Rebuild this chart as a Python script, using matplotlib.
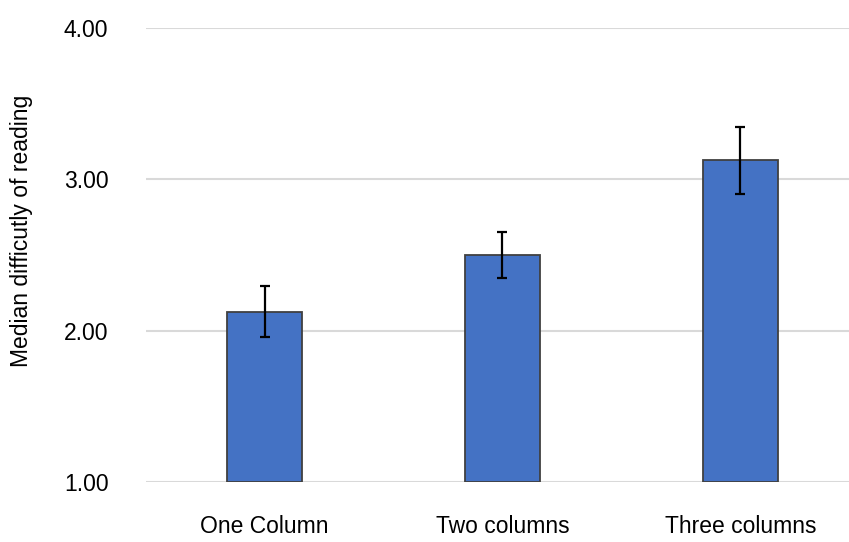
import matplotlib
matplotlib.use('Agg')
import matplotlib.pyplot as plt

plt.rcParams['font.family'] = ['Liberation Sans', 'DejaVu Sans']

categories = ['One Column', 'Two columns', 'Three columns']
medians = [2.125, 2.5, 3.125]
errors = [0.17, 0.15, 0.22]
yticks = [1.0, 2.0, 3.0, 4.0]

fig = plt.figure(figsize=(8.49, 5.42), dpi=100)
ax = fig.add_axes([146 / 849, 1 - 482 / 542, 1 - 146 / 849, (482 - 28) / 542])

x = range(len(categories))
ax.bar(x, [m - 1 for m in medians], bottom=1, width=0.315,
       color='#4472C4', edgecolor='#404040', linewidth=1.3, zorder=3)
ax.errorbar(x, medians, yerr=errors, fmt='none', ecolor='black',
            elinewidth=1.6, capsize=3.6, capthick=1.6, zorder=4)

ax.set_xlim(-0.498, 2.456)
ax.set_ylim(1, 4)
ax.set_yticks(yticks)
ax.set_yticklabels([f'{v:.2f}' for v in yticks], fontsize=16.5)
ax.set_xticks(list(x))
ax.set_xticklabels(categories, fontsize=16.5)
ax.tick_params(axis='both', length=0)
ax.tick_params(axis='y', pad=27)
ax.tick_params(axis='x', pad=24)
ax.yaxis.grid(True, color='#d9d9d9', linewidth=1.5, zorder=0)
ax.set_axisbelow(True)
for s in ax.spines.values():
    s.set_visible(False)

fig.text(22 / 849, 1 - 231 / 542, 'Median difficutly of reading', rotation=90,
         ha='center', va='center', fontsize=16.5)

fig.savefig('out.png', dpi=100)
